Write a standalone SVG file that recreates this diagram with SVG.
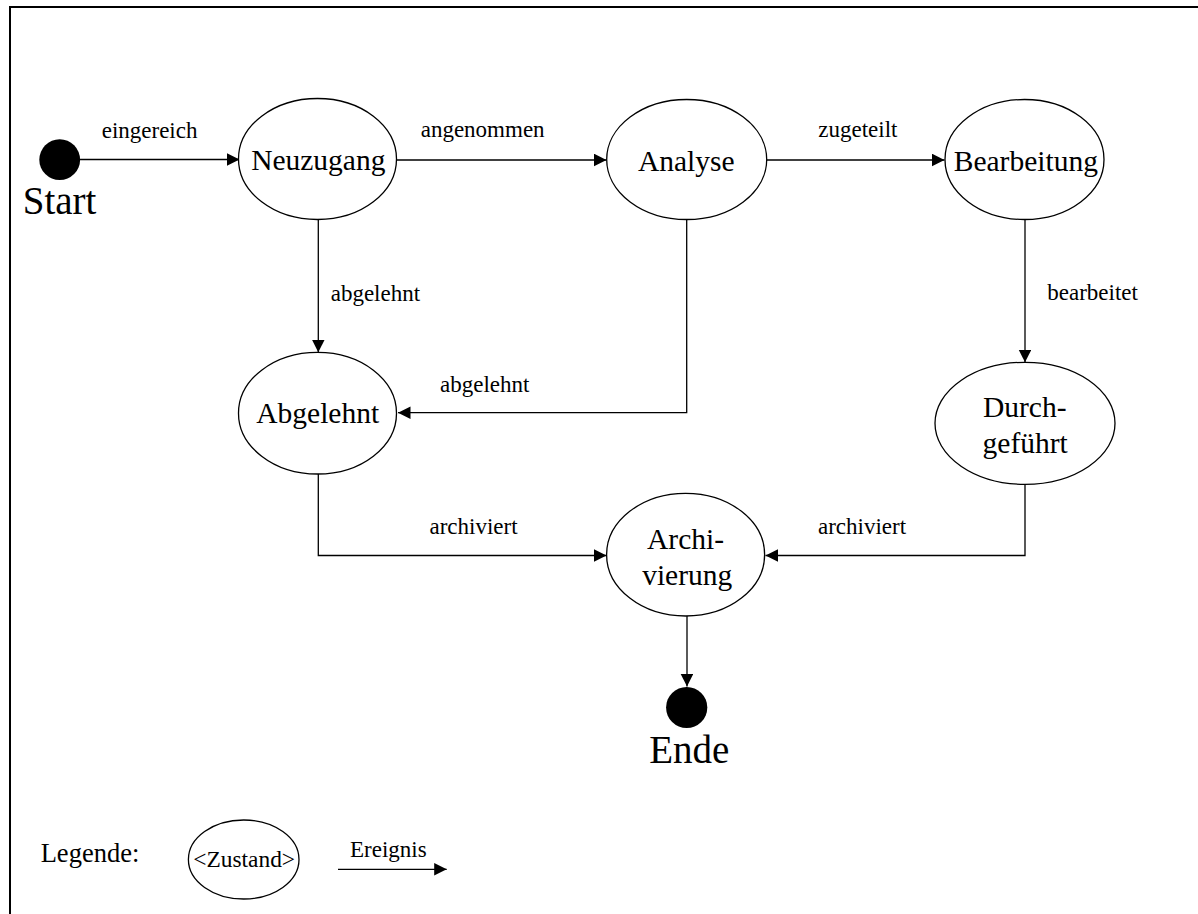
<svg xmlns="http://www.w3.org/2000/svg" width="1198" height="914" viewBox="0 0 1198 914">
<style>
.st{fill:#fff;stroke:#000;stroke-width:1.3}
.dot{fill:#000}
.sl{font-family:"Liberation Serif","Times New Roman",serif;font-size:29.5px;fill:#000;text-anchor:middle}
.ev{font-family:"Liberation Serif","Times New Roman",serif;font-size:23px;fill:#000}
.big{font-family:"Liberation Serif","Times New Roman",serif;font-size:39px;fill:#000}
.cn{fill:none;stroke:#000;stroke-width:1.3;marker-end:url(#ah)}
</style>
<defs>
<marker id="ah" markerUnits="userSpaceOnUse" markerWidth="13" markerHeight="13" refX="12.5" refY="6.3" orient="auto">
<path d="M0,0 L12.5,6.3 L0,12.6 z" fill="#000"/>
</marker>
</defs>
<rect width="1198" height="914" fill="#fff"/>
<path d="M10,914 V7 H1198" fill="none" stroke="#000" stroke-width="2"/>

<g id="connectors">
<path class="cn" d="M80,159.5 H239.5"/>
<path class="cn" d="M397,160 H606.5"/>
<path class="cn" d="M767,160 H944.5"/>
<path class="cn" d="M318.3,220 V352.3"/>
<path class="cn" d="M686.7,219 V412.7 H398"/>
<path class="cn" d="M1025,219 V362.3"/>
<path class="cn" d="M318.3,474 V555.5 H606.5"/>
<path class="cn" d="M1025,484 V555.5 H765.5"/>
<path class="cn" d="M687,616 V686.5"/>
<path class="cn" d="M338,869.3 H446.7"/>
</g>

<g id="labels">
<text class="ev" x="101.7" y="137.7">eingereich</text>
<text class="ev" x="420.7" y="137.3">angenommen</text>
<text class="ev" x="818.3" y="137.3">zugeteilt</text>
<text class="ev" x="330.7" y="300.7">abgelehnt</text>
<text class="ev" x="1047.3" y="300">bearbeitet</text>
<text class="ev" x="440" y="391.7">abgelehnt</text>
<text class="ev" x="429.5" y="534">archiviert</text>
<text class="ev" x="818" y="534">archiviert</text>
</g>

<g id="start">
<circle class="dot" cx="59.7" cy="159.7" r="20.4"/>
<text class="big" x="22.7" y="214">Start</text>
</g>
<g id="neuzugang">
<ellipse class="st" cx="317.5" cy="159" rx="79" ry="60.5"/>
<text class="sl" x="318.3" y="170">Neuzugang</text>
</g>
<g id="analyse">
<ellipse class="st" cx="686.7" cy="159.5" rx="80" ry="60"/>
<text class="sl" x="686.3" y="170.7">Analyse</text>
</g>
<g id="bearbeitung">
<ellipse class="st" cx="1024.5" cy="159.5" rx="79.5" ry="60"/>
<text class="sl" x="1025.8" y="170.7">Bearbeitung</text>
</g>
<g id="abgelehnt">
<ellipse class="st" cx="317.5" cy="413.2" rx="79" ry="60.8"/>
<text class="sl" x="317.7" y="423.3">Abgelehnt</text>
</g>
<g id="durchgefuehrt">
<ellipse class="st" cx="1025" cy="423.3" rx="90" ry="61"/>
<text class="sl" x="1024.7" y="417.3">Durch-</text>
<text class="sl" x="1025.2" y="452.7">geführt</text>
</g>
<g id="archivierung">
<ellipse class="st" cx="685.6" cy="554.7" rx="79" ry="61.3"/>
<text class="sl" x="685.5" y="549.3">Archi-</text>
<text class="sl" x="687.2" y="585">vierung</text>
</g>
<g id="ende">
<circle class="dot" cx="686.7" cy="707.5" r="20.6"/>
<text class="big" x="649.3" y="762.7">Ende</text>
</g>

<g id="legend">
<text class="ev" x="40.7" y="861.7" style="font-size:26.5px">Legende:</text>
<ellipse class="st" cx="243.7" cy="859.5" rx="55.3" ry="39.5"/>
<text class="ev" x="244.2" y="866.7" style="font-size:23.4px;text-anchor:middle">&lt;Zustand&gt;</text>
<text class="ev" x="350" y="856.7">Ereignis</text>
</g>
</svg>
